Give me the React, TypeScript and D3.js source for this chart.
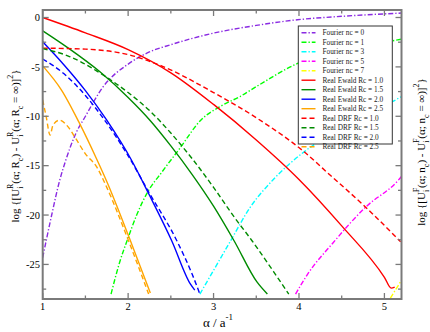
import React, { useEffect, useRef } from 'react';
import * as d3 from 'd3';

// [alpha, log value]
const fourier0 = [[1, -24.3], [1.1, -20.2], [1.2, -16.45], [1.27, -14.45], [1.39, -11.7], [1.5, -10.0], [1.7, -7.1], [2.02, -4.6], [2.26, -3.45], [2.5, -2.75], [3.0, -1.58], [3.5, -0.8], [3.98, -0.23], [4.5, 0.12], [5.2, 0.45]];
const fourier1 = [[1.8, -28], [1.9, -24.8], [2.0, -22.3], [2.1, -20.0], [2.22, -17.8], [2.4, -15.6], [2.6, -13.3], [2.85, -10.4], [3.1, -8.9], [3.31, -8.0], [3.5, -7.0], [4.0, -4.6], [4.5, -3.4], [5.2, -2.2]];
const fourier3 = [[2.84, -28], [3.0, -25.6], [3.2, -22.6], [3.43, -19.2], [3.7, -16.4], [4.06, -13.6], [4.5, -11.2], [5.16, -8.2], [5.2, -8.0]];
const fourier5 = [[3.96, -28], [4.1, -26.0], [4.4, -22.8], [4.78, -19.2], [5.16, -16.5], [5.2, -16.1]];
const fourier7 = [[5.07, -28.4], [5.2, -26.6]];

const ewald10 = [[1, 0], [1.5, -1.55], [2.0, -3.25], [2.5, -5.6], [3.0, -8.8], [3.5, -12.4], [4.0, -16.4], [4.5, -21.1], [5.0, -26.3], [5.08, -27.4], [5.12, -27.3]];
const ewald15 = [[1, -1.35], [1.3, -3.1], [1.67, -5.5], [2.0, -8.1], [2.26, -10.45], [2.5, -13.0], [2.75, -15.9], [3.0, -19.1], [3.24, -22.6], [3.51, -26.8], [3.63, -28.0]];
const ewald20 = [[1, -2.45], [1.25, -4.8], [1.5, -7.4], [1.75, -10.4], [2.04, -14.45], [2.25, -18.0], [2.51, -22.6], [2.73, -27.0], [2.78, -27.6]];
const ewald25 = [[1, -4.9], [1.22, -7.35], [1.43, -10.7], [1.63, -14.3], [1.75, -16.6], [2.0, -22.0], [2.26, -27.9]];

const drf10 = [[1, -3.1], [1.5, -3.2], [2.02, -3.8], [2.41, -4.97], [3.0, -7.6], [3.51, -10.2], [4.06, -13.6], [4.37, -16.0], [4.78, -19.2], [5.19, -22.7]];
const drf15 = [[1, -3.15], [1.3, -3.9], [1.63, -5.4], [2.0, -7.6], [2.26, -9.5], [2.5, -11.7], [2.75, -14.3], [3.0, -17.2], [3.25, -20.3], [3.45, -22.6], [3.7, -25.7], [3.88, -28]];
const drf20 = [[1, -4.2], [1.25, -5.7], [1.5, -7.9], [1.75, -10.7], [2.0, -14.0], [2.25, -17.8], [2.57, -22.6], [2.75, -26.0], [2.84, -28]];
const drf25 = [[1, -8.35], [1.04, -10.0], [1.087, -11.9], [1.12, -10.9], [1.196, -10.4], [1.3, -11.1], [1.39, -12.3], [1.5, -13.8], [1.63, -15.1], [1.75, -17.2], [2.0, -22.5], [2.24, -28]];

const legendNames = [
  'Fourier nc = 0', 'Fourier nc = 1', 'Fourier nc = 3', 'Fourier nc = 5', 'Fourier nc = 7',
  'Real Ewald Rc = 1.0', 'Real Ewald Rc = 1.5', 'Real Ewald Rc = 2.0', 'Real Ewald Rc = 2.5',
  'Real DRF Rc = 1.0', 'Real DRF Rc = 1.5', 'Real DRF Rc = 2.0', 'Real DRF Rc = 2.5',
];
const seriesData = [fourier0, fourier1, fourier3, fourier5, fourier7, ewald10, ewald15, ewald20, ewald25, drf10, drf15, drf20, drf25];
const seriesColors = ['#8a2be2', '#00ff00', '#00ffff', '#ff00ff', '#ffff00', '#ff0000', '#008b00', '#0000ff', '#ffa500', '#ff0000', '#008b00', '#0000ff', '#ffa500'];
const seriesKinds = ['dashdot', 'dashdot', 'dashdot', 'dashdot', 'dashdot', 'solid', 'solid', 'solid', 'solid', 'dash', 'dash', 'dash', 'dash'];

const xTicks = [1, 2, 3, 4, 5];
const xMinor = [1.5, 2.5, 3.5, 4.5];
const yTicks = [0, -5, -10, -15, -20, -25];
const yMinor = [-2.5, -7.5, -12.5, -17.5, -22.5, -27.5];

const dashes = { solid: null, dash: '5,3', dashdot: '5,2,1.3,2' };
const serif = 'Liberation Serif, Tinos, Times New Roman, DejaVu Serif, serif';

const App = () => {
  const svgRef = useRef(null);

  useEffect(() => {
    const svg = d3.select(svgRef.current);
    svg.selectAll('*').remove();

    const left = 42.7, right = 401.5, top = 10, bottom = 299;
    const x = d3.scaleLinear().domain([1, 5.2]).range([left, right]);
    const y = d3.scaleLinear().domain([-28.5, 0.76]).range([bottom, top]);

    svg.append('rect').attr('width', 430).attr('height', 332).attr('fill', '#fff');

    svg.append('clipPath').attr('id', 'plotclip')
      .append('rect').attr('x', left).attr('y', top)
      .attr('width', right - left).attr('height', bottom - top);

    const line = d3.line()
      .x(d => x(d[0]))
      .y(d => y(d[1]))
      .curve(d3.curveMonotoneX);

    // curves
    const g = svg.append('g').attr('clip-path', 'url(#plotclip)');
    seriesData.forEach((data, i) => {
      g.append('path')
        .attr('d', line(data))
        .attr('fill', 'none')
        .attr('stroke', seriesColors[i])
        .attr('stroke-width', 1.4)
        .attr('stroke-dasharray', dashes[seriesKinds[i]]);
    });

    // frame + ticks (inward on all four sides)
    const axisColor = '#7a7a7a';
    const ticks = svg.append('g').attr('stroke', axisColor).attr('stroke-width', 1.3);
    const addX = (vals, len) => vals.forEach(v => {
      ticks.append('line').attr('x1', x(v)).attr('x2', x(v)).attr('y1', bottom).attr('y2', bottom - len);
      ticks.append('line').attr('x1', x(v)).attr('x2', x(v)).attr('y1', top).attr('y2', top + len);
    });
    const addY = (vals, len) => vals.forEach(v => {
      ticks.append('line').attr('y1', y(v)).attr('y2', y(v)).attr('x1', left).attr('x2', left + len);
      ticks.append('line').attr('y1', y(v)).attr('y2', y(v)).attr('x1', right).attr('x2', right - len);
    });
    addX(xTicks, 6);
    addX(xMinor, 3.5);
    addY(yTicks, 6);
    addY(yMinor, 3.5);

    svg.append('rect')
      .attr('x', left).attr('y', top)
      .attr('width', right - left).attr('height', bottom - top)
      .attr('fill', 'none').attr('stroke', axisColor).attr('stroke-width', 2);

    // tick labels
    svg.append('g').selectAll('text').data(xTicks).enter().append('text')
      .attr('x', d => x(d)).attr('y', 309.5)
      .attr('text-anchor', 'middle')
      .style('font-family', serif).attr('font-size', 10.5)
      .text(d => d);
    svg.append('g').selectAll('text').data(yTicks).enter().append('text')
      .attr('x', 40).attr('y', d => y(d)).attr('dy', '0.35em')
      .attr('text-anchor', 'end')
      .style('font-family', serif).attr('font-size', 10.5)
      .text(d => d);

    // x label
    const xl = svg.append('text')
      .attr('x', 218).attr('y', 326.5)
      .attr('text-anchor', 'middle')
      .style('font-family', serif).attr('font-size', 13);
    xl.append('tspan').text('α / a');
    xl.append('tspan').attr('font-size', 9).attr('dy', -7).text('-1');

    // y labels, built from text pieces: [text, kind]
    const yLabel = (cx, cy, sym) => {
      const t = svg.append('text')
        .attr('transform', `translate(${cx},${cy}) rotate(-90)`)
        .attr('text-anchor', 'middle')
        .style('font-family', serif).attr('font-size', 11);
      const parts = [
        ['log {[U', 'n'], ['i', 'sub'], [sym[0], 'supBack'], ['(α; ' + sym[1], 'n'], ['c', 'sub'], [') - U', 'n'],
        ['i', 'sub'], [sym[0], 'supBack'], ['(α; ' + sym[1], 'n'], ['c', 'sub'], [' = ∞)]', 'n'], ['2', 'sup'], ['}', 'n'],
      ];
      let level = 0;
      parts.forEach(([s, kind]) => {
        const ts = t.append('tspan');
        let target = 0;
        if (kind === 'sub') target = 3.5;
        if (kind === 'sup' || kind === 'supBack') target = -6;
        ts.attr('dy', target - level);
        level = target;
        if (kind === 'supBack') ts.attr('dx', -2.5);
        if (kind !== 'n') ts.attr('font-size', 8);
        ts.text(s);
      });
    };
    yLabel(19, 146, ['R', 'R']);
    yLabel(425, 152, ['F', 'n']);

    // legend
    const lg = svg.append('g');
    lg.append('rect')
      .attr('x', 298.3).attr('y', 26).attr('width', 94).attr('height', 118)
      .attr('fill', '#fff').attr('stroke', '#333').attr('stroke-width', 1);
    legendNames.forEach((name, i) => {
      const yy = 32.7 + i * 9.5;
      lg.append('line')
        .attr('x1', 301.5).attr('x2', 315.5).attr('y1', yy).attr('y2', yy)
        .attr('stroke', seriesColors[i]).attr('stroke-width', 1.4)
        .attr('stroke-dasharray', dashes[seriesKinds[i]]);
      lg.append('text')
        .attr('x', 322.5).attr('y', yy).attr('dy', '0.35em')
        .style('font-family', serif).attr('font-size', 7.3)
        .attr('fill', '#222')
        .text(name);
    });
  }, []);

  return (
    <svg ref={svgRef} width={430} height={332}
      style={{ position: 'absolute', left: 0, top: 0 }} />
  );
};

export default App;
